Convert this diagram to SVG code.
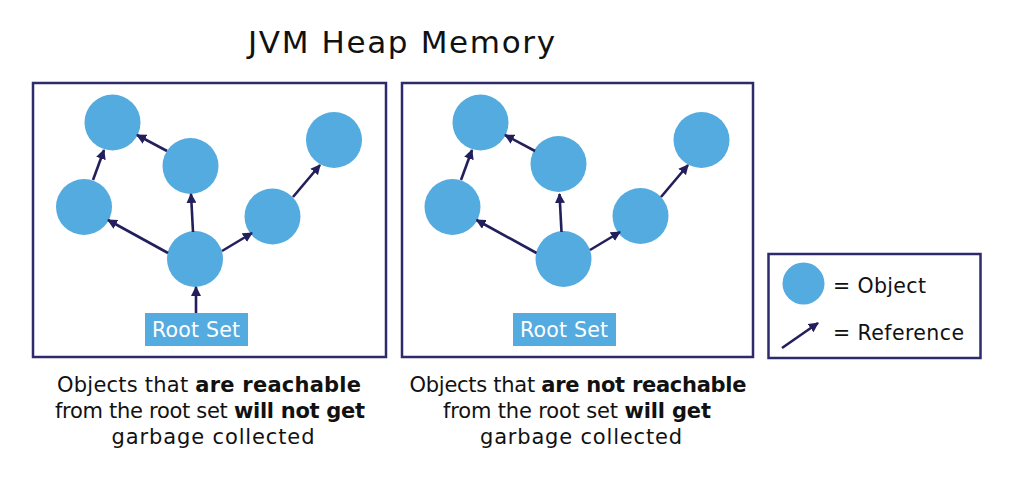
<svg xmlns="http://www.w3.org/2000/svg" width="1024" height="489" viewBox="0 0 1024 489">
<style>
.box{fill:#fff;stroke:#2d2b6b;stroke-width:2.5}
.obj{fill:#54abdf}
.ref{stroke:#231f5c;stroke-width:2.6;fill:none;marker-end:url(#ah)}
.t{font-family:"DejaVu Sans","Liberation Sans",sans-serif;fill:#111}
.cap{font-size:21px;text-anchor:middle}
.b{font-weight:bold}
.rs{fill:#54abdf}
.rst{font-family:"DejaVu Sans","Liberation Sans",sans-serif;font-size:20.5px;fill:#fff;text-anchor:middle}
</style>
<defs>
<marker id="ah" viewBox="0 0 10 10" refX="9" refY="5" markerWidth="10" markerHeight="10" markerUnits="userSpaceOnUse" orient="auto">
<path d="M0,0 L10,5 L0,10 z" fill="#231f5c"/>
</marker>
</defs>
<rect width="1024" height="489" fill="#fff"/>
<text id="title" class="t" x="401.5" y="53" font-size="31" text-anchor="middle" textLength="307" lengthAdjust="spacing">JVM Heap Memory</text>

<g id="panel-left">
<rect class="box" x="33" y="83" width="353" height="274"/>
</g>
<g id="panel-right">
<rect class="box" x="402" y="83" width="351" height="274"/>
</g>

<g id="left-objects">
<circle id="L1" class="obj" cx="112.5" cy="122.5" r="28"/>
<circle id="L2" class="obj" cx="190.5" cy="166" r="28"/>
<circle id="L3" class="obj" cx="84" cy="207" r="28"/>
<circle id="L4" class="obj" cx="195" cy="259" r="28"/>
<circle id="L5" class="obj" cx="272.5" cy="216.5" r="28"/>
<circle id="L6" class="obj" cx="334" cy="140" r="28"/>
</g>
<g id="left-rootset">
<rect class="rs" x="145" y="313" width="103" height="33"/>
<text class="rst" x="196" y="337" textLength="88" lengthAdjust="spacing">Root Set</text>
</g>

<g id="right-objects">
<circle id="R1" class="obj" cx="480.5" cy="122.5" r="28"/>
<circle id="R2" class="obj" cx="558.5" cy="164" r="28"/>
<circle id="R3" class="obj" cx="452.5" cy="207" r="28"/>
<circle id="R4" class="obj" cx="563.5" cy="259" r="28"/>
<circle id="R5" class="obj" cx="640.5" cy="216" r="28"/>
<circle id="R6" class="obj" cx="701.5" cy="140" r="28"/>
</g>
<g id="right-rootset">
<rect class="rs" x="513" y="313" width="103" height="33"/>
<text class="rst" x="564" y="337" textLength="88" lengthAdjust="spacing">Root Set</text>
</g>

<g id="connectors">
<line class="ref" x1="196" y1="313" x2="196" y2="287"/>
<line class="ref" x1="168" y1="253" x2="108" y2="220"/>
<line class="ref" x1="193" y1="232" x2="191" y2="194"/>
<line class="ref" x1="222" y1="251" x2="252" y2="233"/>
<line class="ref" x1="293" y1="197" x2="320" y2="165"/>
<line class="ref" x1="167" y1="151" x2="137" y2="135"/>
<line class="ref" x1="93" y1="180" x2="104" y2="150"/>

<line class="ref" x1="536.5" y1="253" x2="476.5" y2="220"/>
<line class="ref" x1="561.5" y1="232" x2="559.5" y2="194"/>
<line class="ref" x1="590" y1="250" x2="620" y2="232"/>
<line class="ref" x1="661" y1="197" x2="688" y2="165"/>
<line class="ref" x1="535" y1="151" x2="505" y2="135"/>
<line class="ref" x1="461" y1="180" x2="472" y2="150"/>
</g>

<g id="legend">
<rect class="box" x="768.5" y="254" width="212" height="104"/>
<circle class="obj" cx="803.5" cy="283.5" r="21"/>
<text class="t" x="833" y="293" font-size="20.5" textLength="93" lengthAdjust="spacing">= Object</text>
<line class="ref" x1="782" y1="348" x2="818" y2="323"/>
<text class="t" x="833" y="340" font-size="20.5" textLength="131" lengthAdjust="spacing">= Reference</text>
</g>

<g id="caption-left">
<text class="t cap" x="209" y="392" textLength="304" lengthAdjust="spacing">Objects that <tspan class="b">are reachable</tspan></text>
<text class="t cap" x="210" y="418" textLength="310" lengthAdjust="spacing">from the root set <tspan class="b">will not get</tspan></text>
<text class="t cap" x="213" y="443.5" textLength="203" lengthAdjust="spacing">garbage collected</text>
</g>
<g id="caption-right">
<text class="t cap" x="578" y="392" textLength="337" lengthAdjust="spacing">Objects that <tspan class="b">are not reachable</tspan></text>
<text class="t cap" x="577" y="418" textLength="268" lengthAdjust="spacing">from the root set <tspan class="b">will get</tspan></text>
<text class="t cap" x="581" y="443.5" textLength="202" lengthAdjust="spacing">garbage collected</text>
</g>
</svg>
